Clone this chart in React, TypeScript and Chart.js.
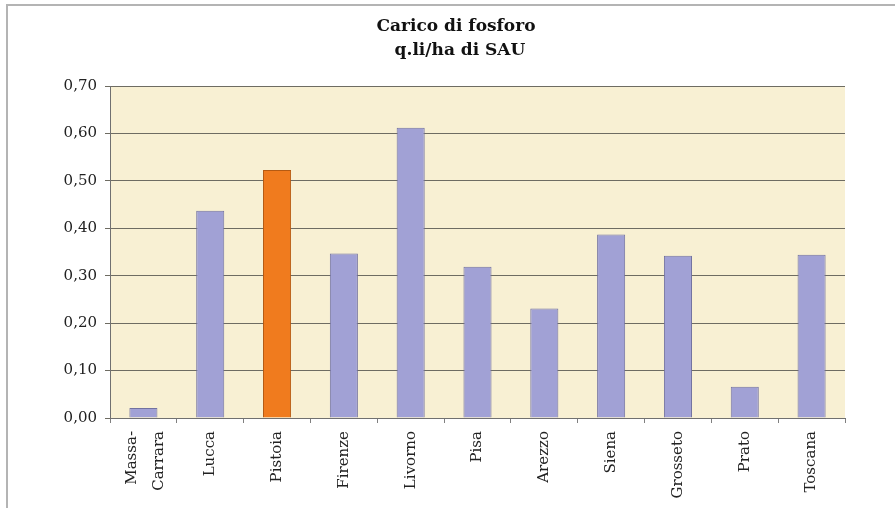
import React, { useEffect, useRef } from "react";
import { Chart, registerables } from "chart.js";

Chart.register(...registerables);

const categories: (string | string[])[] = [
  ["Massa-", "Carrara"],
  "Lucca",
  "Pistoia",
  "Firenze",
  "Livorno",
  "Pisa",
  "Arezzo",
  "Siena",
  "Grosseto",
  "Prato",
  "Toscana",
];
const values: number[] = [0.021, 0.437, 0.523, 0.347, 0.612, 0.319, 0.231, 0.387, 0.342, 0.066, 0.344];
const highlightIndex = 2;
const yTicks: number[] = [0, 0.1, 0.2, 0.3, 0.4, 0.5, 0.6, 0.7];
const titleLines: string[] = ["Carico di fosforo", "q.li/ha di SAU"];

const FONT = "'DejaVu Serif', 'Liberation Serif', serif";

const plotBg = {
  id: "plotBg",
  beforeDraw(chart: any) {
    const { ctx, chartArea } = chart;
    ctx.save();
    ctx.fillStyle = "#F8F0D3";
    ctx.fillRect(chartArea.left, chartArea.top, chartArea.right - chartArea.left, chartArea.bottom - chartArea.top);
    ctx.restore();
    // center multi-line rotated labels on their tick
    const xs = chart.scales.x;
    const items = xs.getLabelItems();
    items.forEach((it: any) => {
      if (Array.isArray(it.label) && !it._shifted) {
        const lh = 27;
        it.options.translation[0] -= ((it.label.length - 1) * lh) / 2 - 2;
        it._shifted = true;
      }
    });
  },
  afterDraw(chart: any) {
    const { ctx } = chart;
    ctx.save();
    ctx.fillStyle = "#111";
    ctx.font = `bold 17px ${FONT}`;
    ctx.textAlign = "center";
    ctx.textBaseline = "alphabetic";
    ctx.fillText(titleLines[0], 456, 31);
    ctx.fillText(titleLines[1], 460, 55);
    ctx.restore();
  },
};

export default function App() {
  const ref = useRef<HTMLCanvasElement | null>(null);
  useEffect(() => {
    if (!ref.current) return;
    const chart = new Chart(ref.current, {
      type: "bar",
      data: {
        labels: categories as any,
        datasets: [
          {
            data: values,
            backgroundColor: values.map((_, i) => (i === highlightIndex ? "#F07B1E" : "#A1A1D5")),
            borderColor: values.map((_, i) => (i === highlightIndex ? "#B55A12" : "#7272A0")),
            borderWidth: 1,
            categoryPercentage: 0.84,
            barPercentage: 0.5,
          },
        ],
      },
      options: {
        responsive: false,
        animation: false,
        layout: { padding: { top: 86, right: 50, bottom: 0, left: 0 } },
        plugins: { legend: { display: false }, title: { display: false }, tooltip: { enabled: false } },
        scales: {
          x: {
            offset: true,
            grid: { display: true, drawOnChartArea: false, drawTicks: true, tickLength: 5, color: "#808080", offset: true },
            border: { display: true, color: "#707070" },
            ticks: {
              minRotation: 90,
              maxRotation: 90,
              autoSkip: false,
              padding: 8,
              color: "#222",
              font: { family: FONT, size: 15, lineHeight: 1.8 },
            },
            afterFit: (s: any) => {
              s.height = 90;
            },
          },
          y: {
            min: 0,
            max: 0.7,
            afterBuildTicks: (s: any) => {
              s.ticks = yTicks.map((v) => ({ value: v }));
            },
            grid: { color: "#6E6C62", tickLength: 5, drawTicks: true },
            border: { display: true, color: "#707070" },
            ticks: {
              padding: 8,
              color: "#222",
              font: { family: FONT, size: 15 },
              callback: (v: any) => Number(v).toFixed(2).replace(".", ","),
            },
            afterFit: (s: any) => {
              s.width = 110;
            },
          },
        },
      },
      plugins: [plotBg],
    });
    return () => chart.destroy();
  }, []);
  return (
    <div style={{ position: "fixed", left: 0, top: 0, width: 895, height: 508, background: "#fff" }}>
      <div
        style={{
          position: "absolute",
          left: 6,
          top: 4,
          width: 889,
          height: 504,
          borderTop: "2px solid #B4B4B4",
          borderLeft: "2px solid #B4B4B4",
          boxSizing: "border-box",
        }}
      />
      <canvas ref={ref} width={895} height={508} style={{ position: "absolute", left: 0, top: 0 }} />
    </div>
  );
}
